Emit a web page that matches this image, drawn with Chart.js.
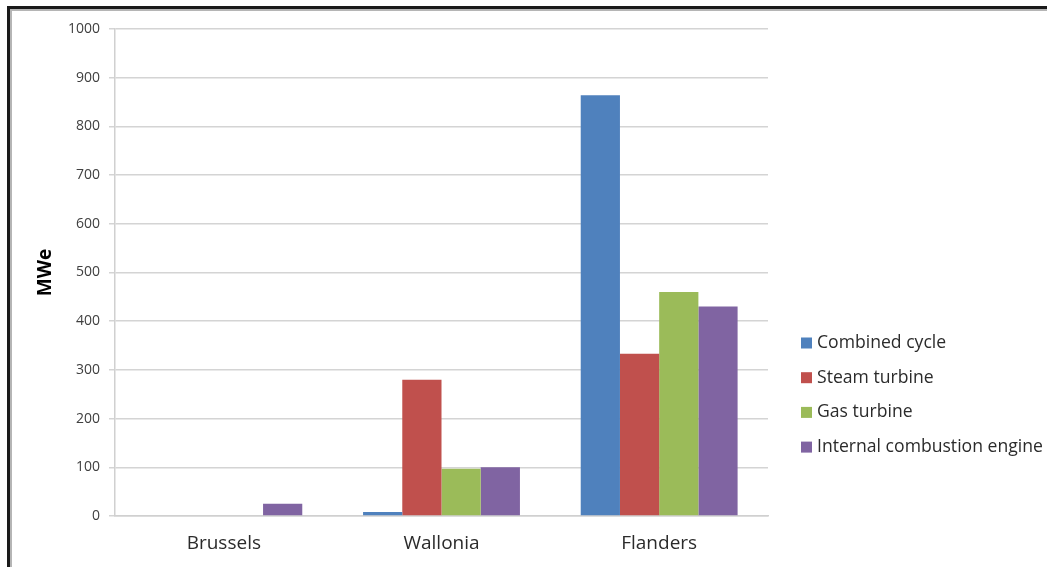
<!DOCTYPE html>
<html>
<head>
<meta charset="utf-8">
<script src="https://cdn.jsdelivr.net/npm/chart.js@4"></script>
<style>
  html, body { margin: 0; padding: 0; background: #ffffff; }
  #wrap { width: 1047px; height: 567px; position: relative; }
</style>
</head>
<body>
<div id="wrap"><canvas id="c" width="1047" height="567"></canvas></div>
<script>
// Installed capacity by region and technology (MWe)
const regions = ['Brussels', 'Wallonia', 'Flanders'];
const combinedCycle = [0, 8, 864];
const steamTurbine = [0, 280, 333];
const gasTurbine = [0, 97, 460];
const internalCombustion = [25, 100, 430];
const seriesNames = ['Combined cycle', 'Steam turbine', 'Gas turbine', 'Internal combustion engine'];
const seriesColors = ['#4F81BD', '#C0504D', '#9BBB59', '#8064A2'];

const FONT = '"Open Sans", sans-serif';
const TEXT = '#2b2b2b';

// Dark frame along the top and left edges
const framePlugin = {
  id: 'frame',
  afterDraw(chart) {
    const ctx = chart.ctx;
    ctx.save();
    ctx.fillStyle = '#b5b5b5';
    ctx.fillRect(10, 9, chart.width - 10, 2);
    ctx.fillRect(10, 9, 2, chart.height - 9);
    ctx.fillStyle = '#1a1a1a';
    ctx.fillRect(7, 6, chart.width - 7, 3);
    ctx.fillRect(7, 6, 3, chart.height - 6);
    ctx.restore();
  }
};

// Vertical legend to the right of the plot
const sideLegend = {
  id: 'sideLegend',
  afterDraw(chart) {
    const ctx = chart.ctx;
    ctx.save();
    ctx.font = '17.6px ' + FONT;
    ctx.textBaseline = 'middle';
    ctx.textAlign = 'left';
    chart.data.datasets.forEach((ds, i) => {
      const y = 343 + i * 34.7;
      ctx.fillStyle = ds.backgroundColor;
      ctx.fillRect(801, y - 5.5, 11, 11);
      ctx.fillStyle = TEXT;
      ctx.fillText(ds.label, 817, y);
    });
    ctx.restore();
  }
};

const seriesValues = [combinedCycle, steamTurbine, gasTurbine, internalCombustion];

new Chart(document.getElementById('c'), {
  type: 'bar',
  data: {
    labels: regions,
    datasets: seriesValues.map((vals, i) => ({
      label: seriesNames[i],
      data: vals,
      backgroundColor: seriesColors[i],
      borderWidth: 0
    }))
  },
  options: {
    responsive: false,
    animation: false,
    devicePixelRatio: 1,
    datasets: { bar: { categoryPercentage: 4 / 5.55, barPercentage: 1 } },
    layout: { padding: { left: 0, top: 29, right: 279, bottom: 0 } },
    plugins: {
      legend: { display: false },
      tooltip: { enabled: false }
    },
    scales: {
      x: {
        grid: { display: false, drawTicks: false },
        border: { display: true, color: '#d0d0d0', width: 1.5 },
        ticks: { color: TEXT, font: { family: FONT, size: 19 }, padding: 16 },
        afterFit(scale) { scale.height = 51; }
      },
      y: {
        min: 0,
        max: 1000,
        ticks: {
          stepSize: 100,
          color: '#404040',
          font: { family: FONT, size: 14 },
          padding: 9,
          callback: (v) => String(v)
        },
        grid: { color: '#d4d4d4', lineWidth: 1.5, tickLength: 6 },
        border: { display: true, color: '#d0d0d0', width: 1.5 },
        title: {
          display: true,
          text: 'MWe',
          color: '#000000',
          font: { family: FONT, size: 19, weight: 'bold' },
          padding: { top: 34, bottom: 0 }
        },
        afterFit(scale) { scale.width = 115; }
      }
    }
  },
  plugins: [framePlugin, sideLegend]
});
</script>
</body>
</html>
